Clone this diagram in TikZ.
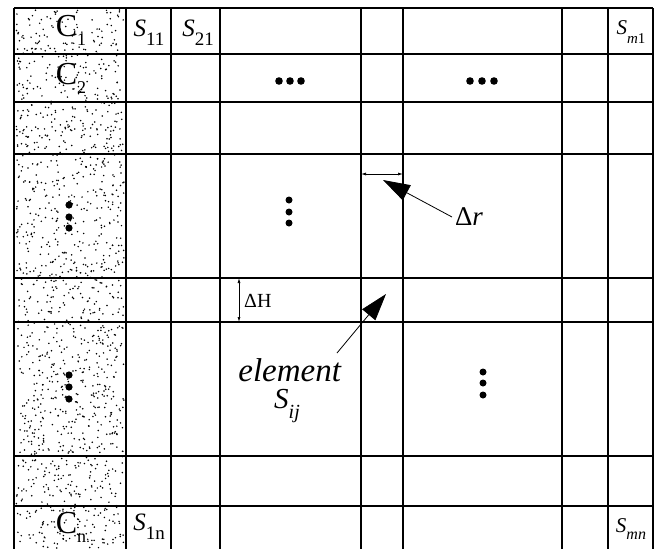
\documentclass[tikz,border=0pt]{standalone}
\usepackage{fontspec}
\setmainfont{Liberation Serif}[ItalicFont=Liberation Serif Italic,BoldFont=Liberation Serif Bold]
\usetikzlibrary{arrows.meta}
\newcommand{\fs}[1]{\fontsize{#1}{#1}\selectfont}
\begin{document}
\begin{tikzpicture}[x=1pt,y=-1pt,
  gridline/.style={line width=1.4pt,black},
  lbl/.style={inner sep=0pt,anchor=center},
  bigdot/.style={fill=black,draw=none},
  dimarrow/.style={line width=0.7pt,{Latex[length=5pt,width=3pt]}-{Latex[length=5pt,width=3pt]}},
  pointer/.style={line width=0.8pt,-{Triangle[length=27pt,width=17pt]}}]
\useasboundingbox (0,0) rectangle (658,549);
\fill[white] (0,0) rectangle (658,549);
% random stipple in first column
\pgfmathsetseed{4711}
\foreach \i in {1,...,1400}{
  \pgfmathsetmacro{\px}{16+108*rnd}
  \pgfmathsetmacro{\py}{10+538*rnd}
  \fill[black] (\px,\py) circle[radius=0.85pt];
}
% grid
\foreach \xx in {14,126,171,220,361,403,562,608,653}{
  \draw[gridline] (\xx,8) -- (\xx,549);
}
\foreach \yy in {8,54,102,154,278,322,456,506}{
  \draw[gridline] (14,\yy) -- (653,\yy);
}
% column labels
\node[lbl] (c1) at (71,30) {\fs{32}C\raisebox{-0.28em}{\fs{18}1}};
\node[lbl] (c2) at (71,78) {\fs{32}C\raisebox{-0.28em}{\fs{18}2}};
\node[lbl] (cn) at (71,527) {\fs{32}C\raisebox{-0.28em}{\fs{18}n}};
% S labels
\node[lbl] (s11) at (149,33) {\fs{25}\textit{S}\raisebox{-0.35em}{\fs{19}11}};
\node[lbl] (s21) at (198,33) {\fs{25}\textit{S}\raisebox{-0.35em}{\fs{19}21}};
\node[lbl] (sm1) at (631,32) {\fs{21}\textit{S}\raisebox{-0.4em}{\fs{15}\textit{m}1}};
\node[lbl] (s1n) at (149,527) {\fs{25}\textit{S}\raisebox{-0.35em}{\fs{19}1n}};
\node[lbl] (smn) at (631,529) {\fs{21}\textit{S}\raisebox{-0.3em}{\fs{16}\textit{mn}}};
% horizontal ellipses
\foreach \cx in {279,290,301}{\fill[bigdot] (\cx,81) circle[radius=3.8pt];}
\foreach \cx in {470,482,494}{\fill[bigdot] (\cx,81) circle[radius=3.8pt];}
% vertical ellipses
\foreach \cy in {200,212,223}{\fill[bigdot] (289,\cy) circle[radius=3.5pt];}
\foreach \cy in {372,383,395}{\fill[bigdot] (483,\cy) circle[radius=3.5pt];}
\foreach \cy in {205,217,228}{\fill[bigdot] (69,\cy) circle[radius=3.6pt];}
\foreach \cy in {375,387,399}{\fill[bigdot] (69,\cy) circle[radius=3.6pt];}
% delta r dimension
\coordinate (drl) at (361,174);
\coordinate (drr) at (403,174);
\draw[dimarrow] (drl) -- (drr);
\node[lbl] (dr) at (469,217) {\fs{27}Δ\textit{r}};
\coordinate (drtip) at (383,180);
\draw[pointer] (452,217) -- (drtip);
% delta H dimension
\coordinate (dht) at (239,278);
\coordinate (dhb) at (239,322);
\draw[dimarrow] (dht) -- (dhb);
\node[lbl,anchor=west] (dh) at (244,301) {\fs{20}ΔH};
% element
\node[lbl] (el) at (290,370) {\fs{33}\textit{element}};
\node[lbl] (sij) at (287,406) {\fs{29}\textit{S}\raisebox{-0.35em}{\fs{20}\textit{ij}}};
\coordinate (eltip) at (386,294);
\draw[pointer] (337,353) -- (eltip);
\end{tikzpicture}
\end{document}
